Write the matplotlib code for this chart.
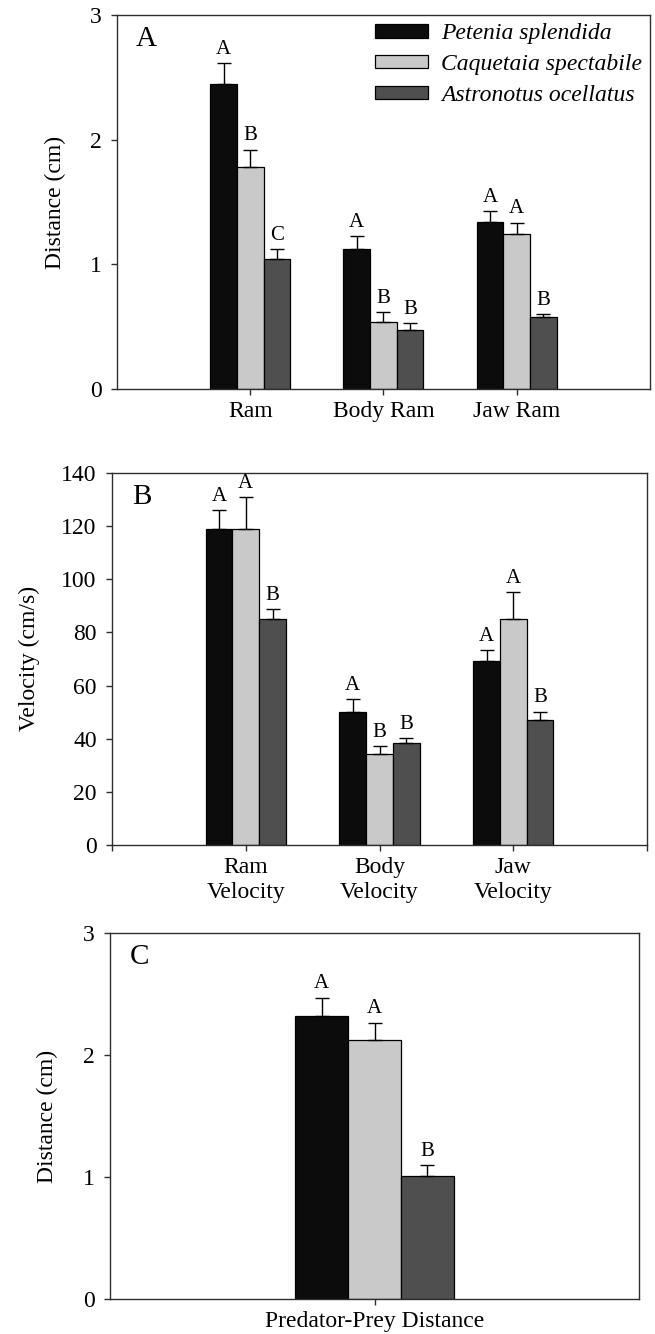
import numpy as np
import matplotlib
matplotlib.use("Agg")
import matplotlib.pyplot as plt

plt.rcParams['font.family'] = ['Liberation Serif', 'DejaVu Serif']
plt.rcParams['font.size'] = 17

# Data
species = ["Petenia splendida", "Caquetaia spectabile", "Astronotus ocellatus"]
colors = ["#0c0c0c", "#c9c9c9", "#4f4f4f"]

# Panel A: distances (cm)
cats_a = ["Ram", "Body Ram", "Jaw Ram"]
mean_a = [[2.45, 1.125, 1.34],    # Petenia
          [1.78, 0.54, 1.245],    # Caquetaia
          [1.045, 0.475, 0.58]]   # Astronotus
err_a = [[0.165, 0.10, 0.09],
         [0.14, 0.08, 0.09],
         [0.08, 0.055, 0.022]]
let_a = [["A", "A", "A"],
         ["B", "B", "A"],
         ["C", "B", "B"]]

# Panel B: velocities (cm/s)
cats_b = ["Ram\nVelocity", "Body\nVelocity", "Jaw\nVelocity"]
mean_b = [[118.9, 49.9, 69.1],
          [118.9, 34.2, 85.1],
          [85.0, 38.3, 47.1]]
err_b = [[7.2, 5.1, 4.1],
         [12.1, 3.1, 10.2],
         [3.9, 1.9, 3.1]]
let_b = [["A", "A", "A"],
         ["A", "B", "A"],
         ["B", "B", "B"]]

# Panel C: predator-prey distance (cm)
cats_c = ["Predator-Prey Distance"]
mean_c = [[2.32], [2.12], [1.01]]
err_c = [[0.15], [0.145], [0.085]]
let_c = [["A"], ["A"], ["B"]]

fig = plt.figure(figsize=(6.55, 13.34), dpi=100)
ax_a = fig.add_axes([0.1786, 0.7084, 0.8137, 0.2804])
ax_b = fig.add_axes([0.171, 0.3666, 0.8168, 0.2789])
ax_c = fig.add_axes([0.168, 0.02624, 0.8076, 0.2744])

width = 0.2
spine_col = "#2e2e2e"


def draw(ax, cats, means, errs, lets, ylim, yticks, xlim, panel, ylab, ylab_x):
    x = np.arange(1, len(cats) + 1)
    for i in range(3):
        xs = x + (i - 1) * width
        ax.bar(xs, means[i], width, color=colors[i], edgecolor="black",
               linewidth=0.9, label=species[i], zorder=2)
        ax.errorbar(xs, means[i], yerr=[np.zeros(len(cats)), errs[i]],
                    fmt="none", ecolor="black", elinewidth=1.0, capsize=5,
                    capthick=1.0, zorder=3)
        for xx, m, e, l in zip(xs, means[i], errs[i], lets[i]):
            ax.annotate(l, (xx, m + e), xytext=(0, 3), textcoords="offset points",
                        ha="center", va="bottom", fontsize=15)
    ax.set_xlim(*xlim)
    ax.set_ylim(*ylim)
    ax.set_yticks(yticks)
    ax.set_xticks(x)
    ax.set_xticklabels(cats)
    ax.set_ylabel(ylab)
    ax.yaxis.set_label_coords(ylab_x, 0.5)
    ax.tick_params(axis="y", direction="out", length=4, width=1, pad=7,
                   color=spine_col)
    ax.tick_params(axis="x", direction="out", length=4, width=1, pad=5,
                   color=spine_col)
    for s in ax.spines.values():
        s.set_color(spine_col)
        s.set_linewidth(1.0)
    ax.text(0.055, 0.935, panel, transform=ax.transAxes, ha="center",
            va="center", fontsize=21)


draw(ax_a, cats_a, mean_a, err_a, let_a, (0, 3), [0, 1, 2, 3], (0, 4), "A",
     "Distance (cm)", -0.096)
draw(ax_b, cats_b, mean_b, err_b, let_b, (0, 140), np.arange(0, 141, 20),
     (0, 4), "B", "Velocity (cm/s)", -0.135)
draw(ax_c, cats_c, mean_c, err_c, let_c, (0, 3), [0, 1, 2, 3], (0, 2), "C",
     "Distance (cm)", -0.098)

# panel B shows small ticks at both ends of the x axis
ax_b.set_xticks([0, 4], minor=True)
ax_b.tick_params(axis="x", which="minor", direction="out", length=4, width=1,
                 color=spine_col)

ax_a.legend(loc="upper left", bbox_to_anchor=(0.484, 0.978), frameon=False,
            prop={"family": ["Liberation Serif"], "style": "italic", "size": 17},
            handlelength=2.25, handleheight=0.5, handletextpad=0.55,
            labelspacing=0.42, borderpad=0, borderaxespad=0)

fig.savefig("out.png", dpi=100)
